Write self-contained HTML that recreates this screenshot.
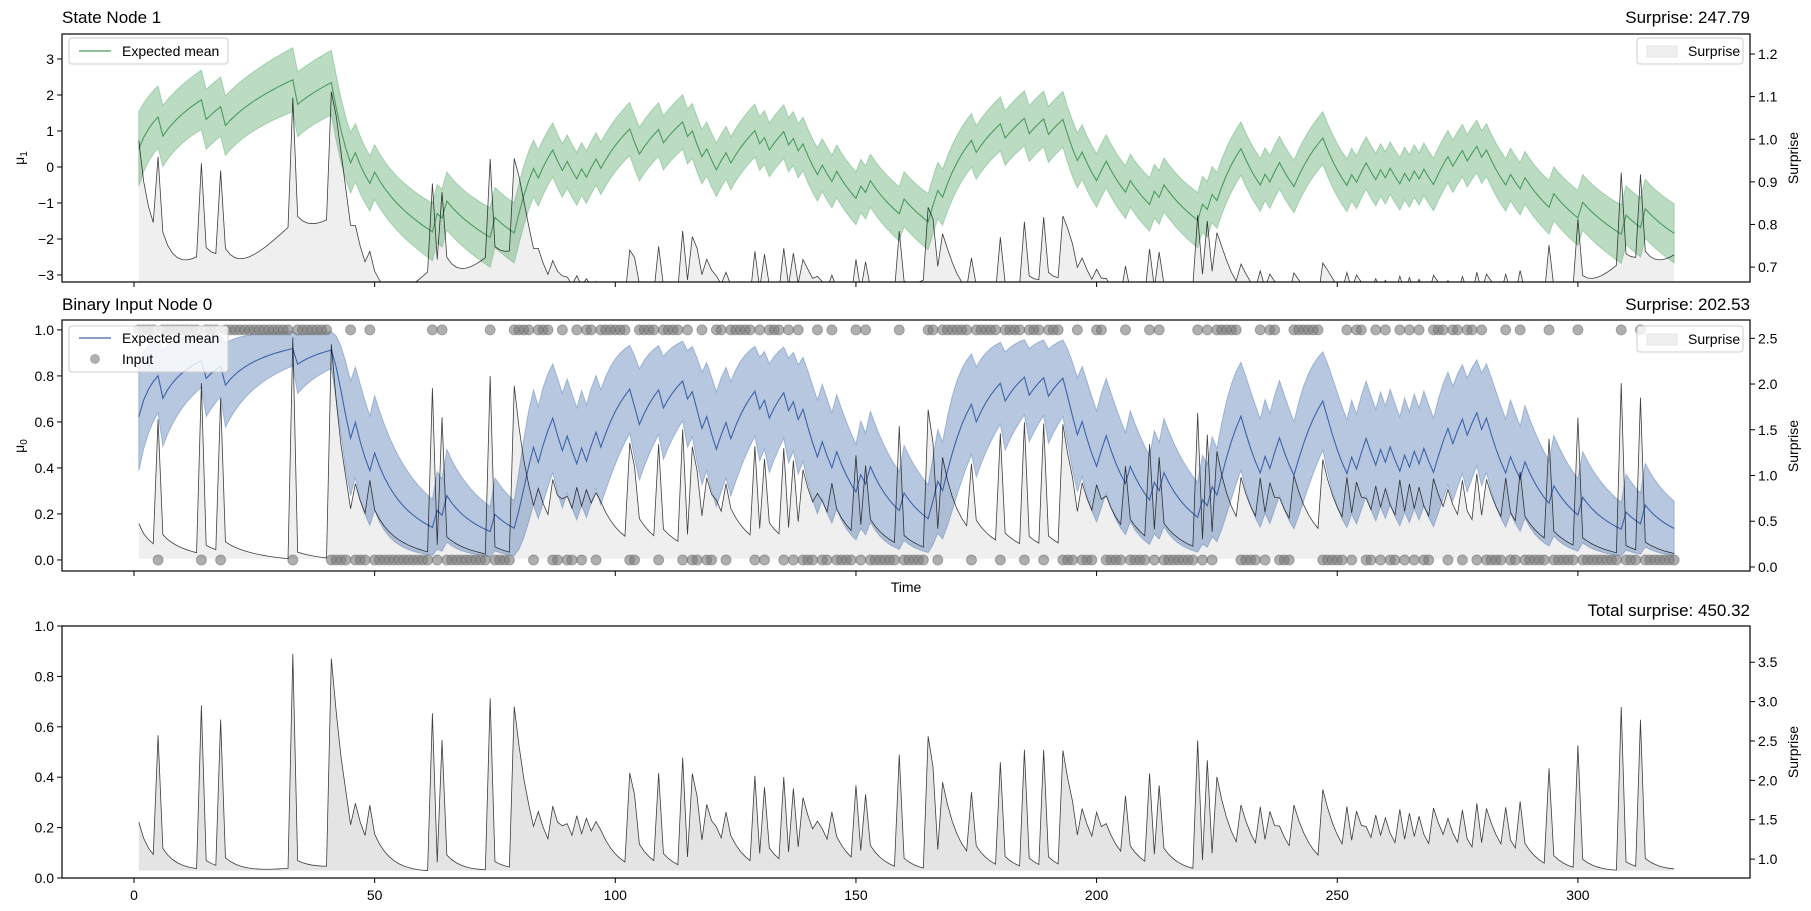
<!DOCTYPE html>
<html><head><meta charset="utf-8">
<style>
html,body{margin:0;padding:0;background:#fff;}
svg{display:block;font-family:"Liberation Sans","DejaVu Sans",sans-serif;}
</style></head>
<body>
<svg id="chart" width="1811" height="911" viewBox="0 0 1811 911" xmlns="http://www.w3.org/2000/svg">
<text x="62" y="23" font-size="17">State Node 1</text>
<text x="1750" y="23" font-size="17" text-anchor="end">Surprise: 247.79</text>
<text x="62" y="310" font-size="17">Binary Input Node 0</text>
<text x="1750" y="310" font-size="17" text-anchor="end">Surprise: 202.53</text>
<text x="1750" y="616" font-size="17" text-anchor="end">Total surprise: 450.32</text>
<text x="906" y="592" font-size="14" text-anchor="middle">Time</text>
<text transform="translate(24,158) rotate(-90)" font-size="14" text-anchor="middle">μ<tspan font-size="10" dy="3">1</tspan></text>
<text transform="translate(24,446) rotate(-90)" font-size="14" text-anchor="middle">μ<tspan font-size="10" dy="3">0</tspan></text>
<text transform="translate(1798,158) rotate(-90)" font-size="14" text-anchor="middle">Surprise</text>
<text transform="translate(1798,446) rotate(-90)" font-size="14" text-anchor="middle">Surprise</text>
<text transform="translate(1798,752) rotate(-90)" font-size="14" text-anchor="middle">Surprise</text>
</svg>
<script>
const inputs = [
1,1,1,1,0,1,1,1,1,1, 1,1,1,0,1,1,1,0,1,1, 1,1,1,1,1,1,1,1,1,1, 1,1,0,1,1,1,1,1,1,1,
0,0,0,0,1,0,0,0,1,0, 0,0,0,0,0,0,0,0,0,0, 0,1,0,1,0,0,0,0,0,0, 0,0,0,1,0,0,0,0,1,1,
1,1,0,1,1,1,0,0,1,0, 0,1,0,1,1,0,1,1,1,1, 1,1,0,0,1,1,1,1,0,1, 1,1,1,0,1,0,0,1,0,0,
1,1,0,1,1,1,1,1,0,1, 0,1,1,1,0,1,0,1,0,0, 0,1,0,0,1,0,0,0,0,1, 0,1,0,0,0,0,0,0,1,0,
0,0,0,0,1,1,0,1,1,1, 1,1,1,0,1,1,1,1,1,0, 1,1,1,1,0,1,1,1,0,1, 1,1,0,0,0,1,0,0,0,1,
1,0,0,0,0,1,0,0,0,0, 1,0,1,0,0,0,0,0,0,0, 1,0,1,0,1,1,1,1,1,0, 0,0,0,1,0,1,1,0,0,0,
1,1,1,1,1,1,0,0,0,0, 0,1,0,1,1,0,0,1,0,1, 0,0,1,0,1,0,1,0,0,1, 1,1,0,1,1,0,1,1,0,1,
0,0,0,0,1,0,0,1,0,0, 0,0,0,1,0,0,0,0,0,1, 0,0,0,0,0,0,0,0,1,0, 0,0,1,0,0,0,0,0,0,0];
// Model parameters
const omega = -2.8;
const muInit = 0.5;
const piInit = 1.0;
// Tick label arrays
const xTicks = [0, 50, 100, 150, 200, 250, 300];
const p1LeftTicks = [-3, -2, -1, 0, 1, 2, 3];
const p1RightTicks = [0.7, 0.8, 0.9, 1.0, 1.1, 1.2];
const p2LeftTicks = [0.0, 0.2, 0.4, 0.6, 0.8, 1.0];
const p2RightTicks = [0.0, 0.5, 1.0, 1.5, 2.0, 2.5];
const p3LeftTicks = [0.0, 0.2, 0.4, 0.6, 0.8, 1.0];
const p3RightTicks = [1.0, 1.5, 2.0, 2.5, 3.0, 3.5];
// Axis limits
const p1LeftLim = [-3.194, 3.694];
const p1RightLim = [0.665, 1.247];
const p2LeftLim = [-0.048, 1.043];
const p2RightLim = [-0.044, 2.70];
const p3LeftLim = [0, 1];
const p3RightLim = [0.76, 3.96];

// ---- derived series (binary HGF) ----
const sig = v => 1 / (1 + Math.exp(-v));
const times = [], mu1hat = [], sd1hat = [], mu0hat = [], s1 = [], s0 = [], sTot = [];
let mu = muInit, pi = piInit;
for (let i = 0; i < inputs.length; i++) {
  const ph = 1 / (1 / pi + Math.exp(omega));
  const m0 = sig(mu);
  const u = inputs[i];
  const d = u - m0;
  const piN = ph + m0 * (1 - m0);
  const muN = mu + d / piN;
  times.push(i + 1);
  mu1hat.push(mu);
  sd1hat.push(Math.sqrt(1 / ph));
  mu0hat.push(m0);
  const sb = -Math.log(u ? m0 : 1 - m0);
  const sc = 0.5 * (Math.log(2 * Math.PI) - Math.log(ph) + ph * (muN - mu) * (muN - mu));
  s0.push(sb); s1.push(sc); sTot.push(sb + sc);
  mu = muN; pi = piN;
}

// ---- layout / scales ----
const NS = "http://www.w3.org/2000/svg";
const svg = document.getElementById("chart");
const AX_L = 62, AX_R = 1750;
const xs = t => 134 + 4.813 * t;
const panels = [{top: 34, bot: 282}, {top: 320, bot: 571}, {top: 626, bot: 878}];
function yScale(p, lim) { return v => p.bot - (v - lim[0]) / (lim[1] - lim[0]) * (p.bot - p.top); }
function el(tag, attrs, parent) {
  const e = document.createElementNS(NS, tag);
  for (const k in attrs) e.setAttribute(k, attrs[k]);
  (parent || svg).appendChild(e); return e;
}
function pathLine(xv, yv, sx, sy) { return xv.map((t, i) => (i ? "L" : "M") + sx(t).toFixed(2) + "," + sy(yv[i]).toFixed(2)).join(""); }
function bandPath(xv, lo, hi, sx, sy) {
  let d = xv.map((t, i) => (i ? "L" : "M") + sx(t).toFixed(2) + "," + sy(hi[i]).toFixed(2)).join("");
  for (let i = xv.length - 1; i >= 0; i--) d += "L" + sx(xv[i]).toFixed(2) + "," + sy(lo[i]).toFixed(2);
  return d + "Z";
}
function surpriseFill(xv, yv, sx, sy, color, name, p) {
  const base = Math.min.apply(null, yv);
  const g = el("path", {d: bandPath(xv, yv.map(() => base), yv, sx, sy), fill: color, stroke: "none", "clip-path": "url(#" + p + ")"});
  
  
}
function surpriseLine(xv, yv, sx, sy, name, p) {
  const l = el("path", {d: pathLine(xv, yv, sx, sy), fill: "none", stroke: "#000", "stroke-width": 0.8, "stroke-opacity": 0.75, "clip-path": "url(#" + p + ")"});
  
  
}
const defs = el("defs", {});
panels.forEach((p, i) => {
  const cp = el("clipPath", {id: "clip" + i}, defs);
  el("rect", {x: AX_L, y: p.top, width: AX_R - AX_L, height: p.bot - p.top}, cp);
});
function frame(p, name) {
  const r = el("rect", {x: AX_L, y: p.top, width: AX_R - AX_L, height: p.bot - p.top, fill: "none", stroke: "#000", "stroke-width": 1.2});
  
  
}
function xAxis(p, labels, name) {
  xTicks.forEach(t => {
    const tk = el("line", {x1: xs(t), x2: xs(t), y1: p.bot, y2: p.bot + 5, stroke: "#000", "stroke-width": 1});
    
    
    if (labels) {
      const tx = el("text", {x: xs(t), y: p.bot + 22, "font-size": 14, "text-anchor": "middle"});
      tx.textContent = t;
      
      
    }
  });
}
function yAxis(ticks, sy, side, fmt, name, p) {
  ticks.filter(v => sy(v) >= p.top - 0.5 && sy(v) <= p.bot + 0.5).forEach(v => {
    const y = sy(v);
    const x0 = side === "left" ? AX_L : AX_R;
    const dx = side === "left" ? -5 : 5;
    const tk = el("line", {x1: x0, x2: x0 + dx, y1: y, y2: y, stroke: "#000", "stroke-width": 1});
    
    
    const tx = el("text", {x: x0 + (side === "left" ? -8 : 8), y: y + 5, "font-size": 14, "text-anchor": side === "left" ? "end" : "start"});
    tx.textContent = fmt(v);
    
    
  });
}
const fmtInt = v => (v < 0 ? "\u2212" + Math.abs(v) : String(v));
const fmt1 = v => v.toFixed(1);
function legendBox(x, y, w, h, name) {
  const g = el("rect", {x: x, y: y, width: w, height: h, rx: 3, fill: "#fff", "fill-opacity": 0.8, stroke: "#ccc", "stroke-width": 1});
  
  
}
function legendText(x, y, s, name) {
  const t = el("text", {x: x, y: y, "font-size": 14});
  t.textContent = s;
  
  
}

// ---- Panel 1 ----
(function () {
  const p = panels[0];
  const lo = mu1hat.map((m, i) => m - sd1hat[i]), hi = mu1hat.map((m, i) => m + sd1hat[i]);
  const syL = yScale(p, p1LeftLim);
  const syR = yScale(p, p1RightLim);
  surpriseFill(times, s1, xs, syR, "#efefef", "panel1-surprise-area", "clip0");
  const b = el("path", {d: bandPath(times, lo, hi, xs, syL), fill: "#55a868", "fill-opacity": 0.4, stroke: "#55a868", "stroke-opacity": 0.4, "stroke-width": 1, "clip-path": "url(#clip0)"});
  
  
  const l = el("path", {d: pathLine(times, mu1hat, xs, syL), fill: "none", stroke: "#4a9a5c", "stroke-width": 1.1});
  
  
  surpriseLine(times, s1, xs, syR, "panel1-surprise-line", "clip0");
  frame(p, "panel1-axes");
  xAxis(p, false, "panel1-x-axis");
  yAxis(p1LeftTicks, syL, "left", fmtInt, "panel1-left-axis", p);
  yAxis(p1RightTicks, syR, "right", fmt1, "panel1-right-axis", p);
  legendBox(69, 38, 159, 26, "panel1-legend-left");
  const ll = el("line", {x1: 79, x2: 111, y1: 51, y2: 51, stroke: "#4a9a5c", "stroke-width": 1.2});
  
  
  legendText(122, 56, "Expected mean", "panel1-legend-mean-label");
  legendBox(1637, 38, 106, 26, "panel1-legend-right");
  const sw = el("rect", {x: 1647, y: 46, width: 30, height: 11, fill: "#efefef", stroke: "#e4e4e4"});
  
  
  legendText(1688, 56, "Surprise", "panel1-legend-surprise-label");
})();

// ---- Panel 2 ----
(function () {
  const p = panels[1];
  const lo = mu0hat.map(m => m - m * (1 - m)), hi = mu0hat.map(m => m + m * (1 - m));
  const syL = yScale(p, p2LeftLim);
  const syR = yScale(p, p2RightLim);
  surpriseFill(times, s0, xs, syR, "#efefef", "panel2-surprise-area", "clip1");
  const b = el("path", {d: bandPath(times, lo, hi, xs, syL), fill: "#4c72b0", "fill-opacity": 0.4, stroke: "#4c72b0", "stroke-opacity": 0.4, "stroke-width": 1, "clip-path": "url(#clip1)"});
  
  
  const l = el("path", {d: pathLine(times, mu0hat, xs, syL), fill: "none", stroke: "#3d63a8", "stroke-width": 1.1});
  
  
  inputs.forEach((u, i) => {
    const c = el("circle", {cx: xs(times[i]), cy: syL(u), r: 5, fill: "#7a7a7a", "fill-opacity": 0.6, stroke: "#6a6a6a", "stroke-opacity": 0.5});
    
    
  });
  surpriseLine(times, s0, xs, syR, "panel2-surprise-line", "clip1");
  frame(p, "panel2-axes");
  xAxis(p, false, "panel2-x-axis");
  yAxis(p2LeftTicks, syL, "left", fmt1, "panel2-left-axis", p);
  yAxis(p2RightTicks, syR, "right", fmt1, "panel2-right-axis", p);
  legendBox(69, 326, 159, 46, "panel2-legend-left");
  const ll = el("line", {x1: 79, x2: 111, y1: 338, y2: 338, stroke: "#3d63a8", "stroke-width": 1.2});
  
  
  legendText(122, 343, "Expected mean", "panel2-legend-mean-label");
  const lc = el("circle", {cx: 95, cy: 359, r: 5, fill: "#7a7a7a", "fill-opacity": 0.6});
  
  
  legendText(122, 364, "Input", "panel2-legend-input-label");
  legendBox(1637, 326, 106, 26, "panel2-legend-right");
  const sw = el("rect", {x: 1647, y: 334, width: 30, height: 11, fill: "#efefef", stroke: "#e4e4e4"});
  
  
  legendText(1688, 344, "Surprise", "panel2-legend-surprise-label");
})();

// ---- Panel 3 ----
(function () {
  const p = panels[2];
  const syL = yScale(p, p3LeftLim);
  const syR = yScale(p, p3RightLim);
  surpriseFill(times, sTot, xs, syR, "#e4e4e4", "panel3-total-surprise-area", "clip2");
  surpriseLine(times, sTot, xs, syR, "panel3-total-surprise-line", "clip2");
  frame(p, "panel3-axes");
  xAxis(p, true, "panel3-x-axis");
  yAxis(p3LeftTicks, syL, "left", fmt1, "panel3-left-axis", p);
  yAxis(p3RightTicks, syR, "right", fmt1, "panel3-right-axis", p);
})();
</script>
</body></html>
